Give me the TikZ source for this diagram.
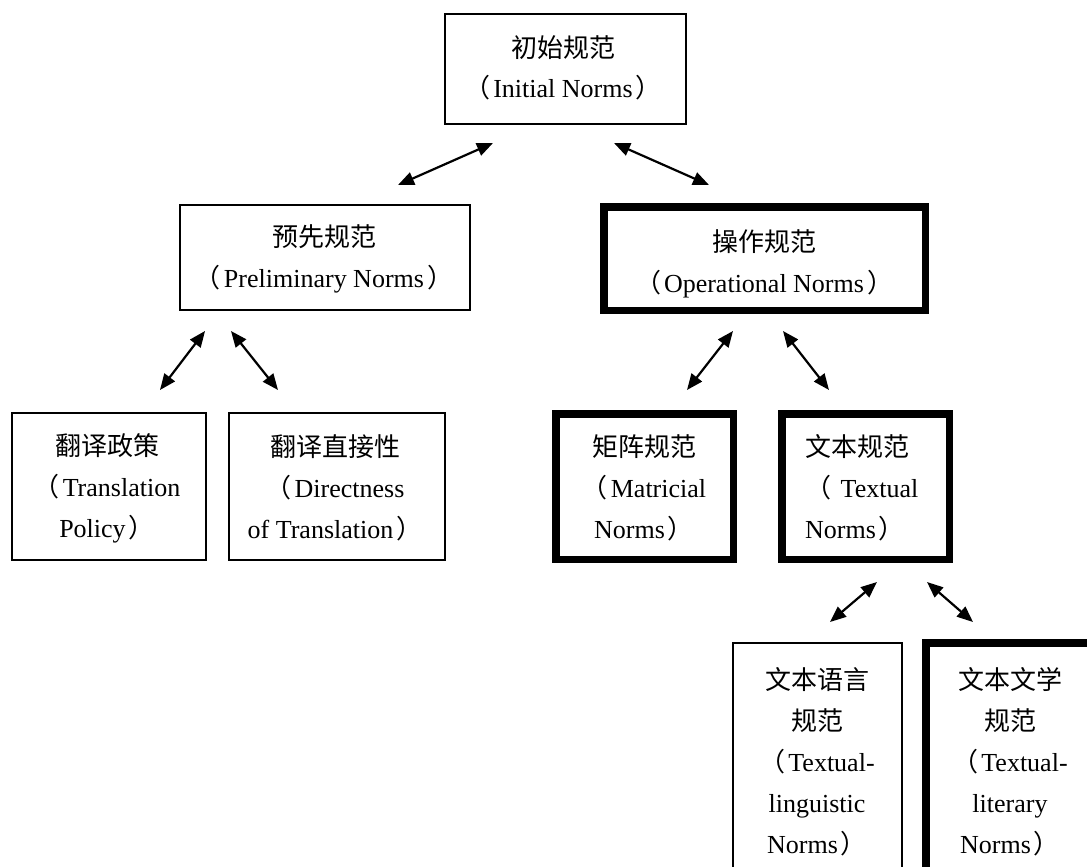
\documentclass[tikz,border=0pt]{standalone}
\usepackage{fontspec}
\setmainfont{Liberation Serif}
\newfontfamily\cjk{Noto Sans CJK SC}
\usetikzlibrary{arrows.meta}
\newcommand{\lp}{{\cjk （}\kern3pt}
\newcommand{\rp}{\kern3pt{\cjk ）}}
\begin{document}
\begin{tikzpicture}[x=1pt,y=-1pt,
  thinbox/.style={draw=black,line width=1.6pt},
  thickbox/.style={draw=black,line width=7.5pt},
  lbl/.style={align=center,font=\fontsize{26}{41}\selectfont,inner sep=0pt},
  dbl/.style={{Triangle[length=16pt,width=13pt]}-{Triangle[length=16pt,width=13pt]},line width=2.2pt}]
\useasboundingbox (0,0) rectangle (1087,867);
\clip (0,0) rectangle (1087,867);
% boxes
\draw[thinbox] (445,14) rectangle (686,124);
\draw[thinbox] (180,205) rectangle (470,310);
\draw[thickbox] (603.75,206.75) rectangle (925.25,310.25);
\draw[thinbox] (12,413) rectangle (206,560);
\draw[thinbox] (229,413) rectangle (445,560);
\draw[thickbox] (555.75,413.75) rectangle (733.25,559.25);
\draw[thickbox] (781.75,413.75) rectangle (949.25,559.25);
\draw[thinbox] (733,643) rectangle (902,900);
\draw[thickbox] (925.75,642.75) rectangle (1110,900);
% texts
\node[lbl] (init) at (563,68) {{\cjk 初始规范}\\[-1pt]\lp Initial Norms\rp};
\node[lbl] (prel) at (324,259) {{\cjk 预先规范}\\\lp Preliminary Norms\rp};
\node[lbl] (oper) at (764,264) {{\cjk 操作规范}\\\lp Operational Norms\rp};
\node[lbl] (poli) at (107,488) {{\cjk 翻译政策}\\\lp Translation\\Policy\rp};
\node[lbl] (dire) at (335,488) {{\cjk 翻译直接性}\\\lp Directness\\of Translation\rp};
\node[lbl] (matr) at (644,488) {{\cjk 矩阵规范}\\\lp Matricial\\Norms\rp};
\node[lbl,align=left,anchor=west] (text) at (805,488) {{\cjk 文本规范}\\\lp\ Textual\\Norms\rp};
\node[lbl] (ling) at (817,762) {{\cjk 文本语言}\\{\cjk 规范}\\\lp Textual-\\linguistic\\Norms\rp};
\node[lbl] (lite) at (1010,762) {{\cjk 文本文学}\\{\cjk 规范}\\\lp Textual-\\literary\\Norms\rp};
% arrow end points
\coordinate (a1s) at (493,143); \coordinate (a1e) at (398,185);
\coordinate (a2s) at (614,143); \coordinate (a2e) at (709,185);
\coordinate (a3s) at (205,331); \coordinate (a3e) at (160,390);
\coordinate (a4s) at (231,331); \coordinate (a4e) at (278,390);
\coordinate (a5s) at (733,331); \coordinate (a5e) at (687,390);
\coordinate (a6s) at (783,331); \coordinate (a6e) at (829,390);
\coordinate (a7s) at (877,582); \coordinate (a7e) at (830,622);
\coordinate (a8s) at (927,582); \coordinate (a8e) at (973,622);
\foreach \i in {1,...,8} {\draw[dbl] (a\i s) -- (a\i e);}
\end{tikzpicture}
\end{document}
